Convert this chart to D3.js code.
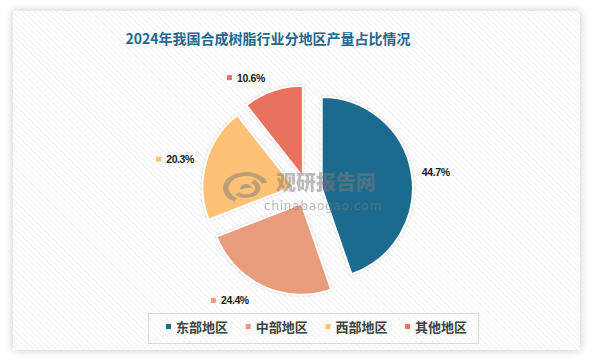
<!DOCTYPE html>
<html><head><meta charset="utf-8">
<script src="https://cdn.jsdelivr.net/npm/d3@7"></script>
<style>html,body{margin:0;padding:0;background:#fff;} svg{display:block}</style>
</head><body>
<svg id="chart" width="592" height="361"></svg>
<script>
// ---- data ----
const title = "2024年我国合成树脂行业分地区产量占比情况";
const regions = ["东部地区", "中部地区", "西部地区", "其他地区"];
const shares = [44.7, 24.4, 20.3, 10.6];
const labels = ["44.7%", "24.4%", "20.3%", "10.6%"];
// ---- style / layout ----
const colors = ["#1e6a8d", "#e89c7c", "#fec276", "#e8725f"];
const showKey = [false, true, true, true];
const labelNudge = [[0, 3], [-18, -8], [-2, 3], [-14, 10]];

const W = 592, H = 361;
const cx = 307.5, cy = 190.5, R = 91, explode = 14.5, labelR = 130;

const svg = d3.select("#chart");
const defs = svg.append("defs");

const fs = defs.append("filter").attr("id", "pshadow")
  .attr("x", "-10%").attr("y", "-10%").attr("width", "120%").attr("height", "120%");
fs.append("feGaussianBlur").attr("in", "SourceAlpha").attr("stdDeviation", 5).attr("result", "b");
fs.append("feComponentTransfer").attr("in", "b").attr("result", "c")
  .append("feFuncA").attr("type", "linear").attr("slope", 0.22);
const fm = fs.append("feMerge");
fm.append("feMergeNode").attr("in", "c");
fm.append("feMergeNode").attr("in", "SourceGraphic");

const ss = defs.append("filter").attr("id", "sshadow")
  .attr("x", "-20%").attr("y", "-20%").attr("width", "140%").attr("height", "140%");
ss.append("feGaussianBlur").attr("in", "SourceAlpha").attr("stdDeviation", 1.5).attr("result", "b");
ss.append("feComponentTransfer").attr("in", "b").attr("result", "c")
  .append("feFuncA").attr("type", "linear").attr("slope", 0.18);
const sm = ss.append("feMerge");
sm.append("feMergeNode").attr("in", "c");
sm.append("feMergeNode").attr("in", "SourceGraphic");

const pat = defs.append("pattern").attr("id", "stripes")
  .attr("patternUnits", "userSpaceOnUse").attr("width", 4).attr("height", 4)
  .attr("patternTransform", "rotate(-45)");
pat.append("rect").attr("width", 4).attr("height", 4).attr("fill", "#ffffff");
pat.append("line").attr("x1", 0).attr("y1", 0).attr("x2", 0).attr("y2", 4)
  .attr("stroke", "#ebebeb").attr("stroke-width", 1.6);

svg.append("rect").attr("width", W).attr("height", H).attr("fill", "#ffffff");
svg.append("rect").attr("x", 13).attr("y", 11).attr("width", 567).attr("height", 339)
  .attr("fill", "url(#stripes)").attr("filter", "url(#pshadow)");

// title
svg.append("text").attr("x", 268).attr("y", 38).attr("text-anchor", "middle")
  .attr("dominant-baseline", "central")
  .style("font-family", "'Noto Sans CJK SC', sans-serif").style("font-weight", "bold")
  .style("font-size", "14px").attr("fill", "#1d6790").text(title);

// pie
const pie = d3.pie().sort(null).value(d => d);
const arcs = pie(shares);
const arc = d3.arc().innerRadius(0).outerRadius(R);
const g = svg.append("g").attr("transform", `translate(${cx},${cy})`);
g.selectAll("path.slice").data(arcs).join("path")
  .attr("class", "slice")
  .attr("transform", d => {
    const m = (d.startAngle + d.endAngle) / 2;
    return `translate(${Math.sin(m) * explode},${-Math.cos(m) * explode})`;
  })
  .attr("d", arc)
  .attr("fill", (d, i) => colors[i])
  .attr("stroke", "#ffffff").attr("stroke-width", 1.8).attr("stroke-linejoin", "miter")
  .attr("filter", "url(#sshadow)");

// labels
const lab = g.selectAll("g.lab").data(arcs).join("g").attr("class", "lab")
  .attr("transform", (d, i) => {
    const m = (d.startAngle + d.endAngle) / 2;
    return `translate(${Math.sin(m) * labelR + labelNudge[i][0]},${-Math.cos(m) * labelR + labelNudge[i][1]})`;
  });
lab.append("text").attr("text-anchor", "middle").attr("dominant-baseline", "central")
  .style("font-family", "'Liberation Sans', Arial, sans-serif").style("font-weight", "bold")
  .style("font-size", "10.5px").style("letter-spacing", "-0.4px")
  .attr("fill", "#1a1a1a").text((d, i) => labels[i]);
lab.filter((d, i) => showKey[i]).append("rect")
  .attr("x", -24).attr("y", -2.5).attr("width", 5).attr("height", 5)
  .attr("fill", d => colors[arcs.indexOf(d)]);

// watermark
const wm = svg.append("g").attr("opacity", 0.5).attr("fill", "#7d7d7d");
const wlogo = wm.append("g").attr("transform", "translate(246,188) scale(1.15,0.8)");
const la = d3.arc();
wlogo.append("path").attr("d", la({innerRadius: 15, outerRadius: 20, startAngle: -2.6, endAngle: 1.2}));
wlogo.append("path").attr("d", la({innerRadius: 8, outerRadius: 12.5, startAngle: 0.6, endAngle: 4.0}));
wlogo.append("path").attr("d", la({innerRadius: 0, outerRadius: 5, startAngle: -2.0, endAngle: 1.6}));
wm.append("text").attr("x", 326).attr("y", 181).attr("text-anchor", "middle")
  .attr("dominant-baseline", "central")
  .style("font-family", "'Noto Sans CJK SC', sans-serif").style("font-weight", "900")
  .style("font-size", "20px").text("观研报告网");
wm.append("text").attr("x", 323).attr("y", 205).attr("text-anchor", "middle")
  .attr("dominant-baseline", "central")
  .style("font-family", "'DejaVu Sans', sans-serif").style("font-size", "12.5px")
  .style("letter-spacing", "0.5px").text("chinabaogao.com");

// legend
svg.append("rect").attr("x", 148.5).attr("y", 313.5).attr("width", 330).attr("height", 30)
  .attr("fill", "none").attr("stroke", "#d9d9d9").attr("stroke-width", 1);
const leg = svg.append("g").selectAll("g").data(regions).join("g")
  .attr("transform", (d, i) => `translate(${166 + i * 79.7},326.5)`);
leg.append("rect").attr("x", 0).attr("y", -2.5).attr("width", 5).attr("height", 5)
  .attr("fill", (d, i) => colors[i]);
leg.append("text").attr("x", 10).attr("y", 0).attr("dominant-baseline", "central")
  .style("font-family", "'Noto Sans CJK SC', sans-serif").style("font-weight", "bold")
  .style("font-size", "13px").attr("fill", "#404040").text(d => d);
</script>
</body></html>
